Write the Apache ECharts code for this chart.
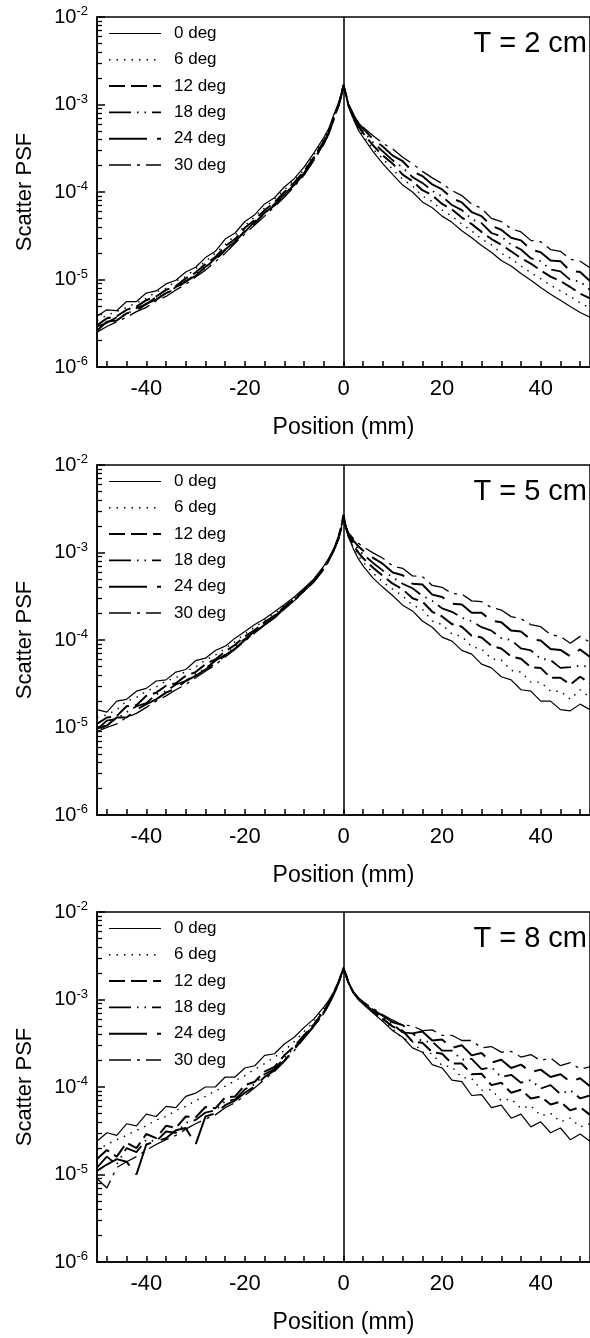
<!DOCTYPE html>
<html><head><meta charset="utf-8">
<script src="https://cdn.jsdelivr.net/npm/echarts@6/dist/echarts.min.js"></script>
<style>html,body{margin:0;padding:0;background:#fff}#chart{width:590px;height:1338px}</style>
</head><body><div id="chart"></div>
<script>
// Position (mm) sampling shared by all curves
const positions = [-50,-48,-46,-44,-42,-40,-38,-36,-34,-32,-30,-28,-26,-24,-22,-20,-18,-16,-14,-12,-10,-8,-6,-4,-3,-2,-1,-0.5,0,
  0.5,1,2,3,4,6,8,10,12,14,16,18,20,22,24,26,28,30,32,34,36,38,40,42,44,46,48,50];
const seriesNames = ['0 deg','6 deg','12 deg','18 deg','24 deg','30 deg'];
const panelTitles = ['T = 2 cm','T = 5 cm','T = 8 cm'];
const xTickLabels = [-40,-20,0,20,40];
const yTickLabels = [1e-6,1e-5,1e-4,1e-3,1e-2];

// T = 2 cm
const t2_0 = [3.8e-6,4.5e-6,4.4e-6,5.6e-6,5.6e-6,7.0e-6,7.4e-6,8.9e-6,9.8e-6,1.22e-5,1.38e-5,1.78e-5,2.1e-5,2.9e-5,3.4e-5,4.6e-5,5.5e-5,7.3e-5,8.6e-5,1.14e-4,1.42e-4,1.92e-4,2.8e-4,4.2e-4,5.3e-4,7.6e-4,1.05e-3,1.3e-3,1.7e-3,
  1.26e-3,9.5e-4,6.8e-4,5.1e-4,4.2e-4,2.9e-4,2.1e-4,1.58e-4,1.2e-4,1.0e-4,7.7e-5,6.6e-5,5.3e-5,4.5e-5,3.6e-5,3.0e-5,2.45e-5,2.05e-5,1.65e-5,1.43e-5,1.17e-5,9.8e-6,8.1e-6,6.8e-6,5.8e-6,4.9e-6,4.2e-6,3.7e-6];
const t2_6 = [3.4e-6,3.9e-6,4.3e-6,4.8e-6,5.4e-6,6.1e-6,7.2e-6,7.9e-6,9.6e-6,1.08e-5,1.33e-5,1.6e-5,2.0e-5,2.5e-5,3.2e-5,4.1e-5,5.2e-5,6.6e-5,8.3e-5,1.06e-4,1.35e-4,1.8e-4,2.65e-4,4.0e-4,5.1e-4,7.3e-4,1.02e-3,1.28e-3,1.68e-3,
  1.27e-3,9.6e-4,7.0e-4,5.3e-4,4.4e-4,3.1e-4,2.4e-4,1.8e-4,1.4e-4,1.17e-4,9.0e-5,7.8e-5,6.2e-5,5.3e-5,4.3e-5,3.6e-5,2.9e-5,2.5e-5,2.0e-5,1.73e-5,1.43e-5,1.2e-5,1.02e-5,8.6e-6,7.4e-6,6.4e-6,5.4e-6,4.7e-6];
const t2_12 = [3.0e-6,3.6e-6,3.8e-6,4.5e-6,4.9e-6,5.8e-6,6.4e-6,7.6e-6,8.4e-6,1.03e-5,1.2e-5,1.5e-5,1.8e-5,2.4e-5,2.9e-5,3.9e-5,4.8e-5,6.2e-5,7.6e-5,1.0e-4,1.28e-4,1.72e-4,2.5e-4,3.8e-4,4.9e-4,7.0e-4,1.0e-3,1.26e-3,1.66e-3,
  1.28e-3,9.8e-4,7.1e-4,5.6e-4,4.7e-4,3.4e-4,2.6e-4,2.1e-4,1.58e-4,1.33e-4,1.05e-4,9.2e-5,7.3e-5,6.3e-5,5.1e-5,4.3e-5,3.5e-5,2.9e-5,2.5e-5,2.1e-5,1.75e-5,1.52e-5,1.27e-5,1.08e-5,9.6e-6,8.2e-6,6.9e-6,6.1e-6];
const t2_18 = [2.9e-6,3.2e-6,3.7e-6,4.0e-6,4.7e-6,5.2e-6,6.3e-6,6.9e-6,8.2e-6,9.4e-6,1.15e-5,1.35e-5,1.75e-5,2.15e-5,2.8e-5,3.5e-5,4.6e-5,5.7e-5,7.3e-5,9.3e-5,1.22e-4,1.65e-4,2.4e-4,3.7e-4,4.8e-4,6.8e-4,9.8e-4,1.24e-3,1.65e-3,
  1.29e-3,9.9e-4,7.4e-4,5.7e-4,4.9e-4,3.7e-4,2.9e-4,2.3e-4,1.9e-4,1.48e-4,1.27e-4,1.03e-4,8.9e-5,7.1e-5,6.2e-5,4.9e-5,4.4e-5,3.4e-5,3.1e-5,2.5e-5,2.2e-5,1.75e-5,1.62e-5,1.3e-5,1.24e-5,9.9e-6,9.5e-6,7.6e-6];
const t2_24 = [2.6e-6,3.3e-6,3.4e-6,4.1e-6,4.4e-6,5.3e-6,5.9e-6,7.0e-6,7.8e-6,9.6e-6,1.1e-5,1.4e-5,1.65e-5,2.2e-5,2.7e-5,3.6e-5,4.4e-5,5.8e-5,7.0e-5,9.4e-5,1.2e-4,1.62e-4,2.35e-4,3.6e-4,4.7e-4,6.7e-4,9.7e-4,1.23e-3,1.64e-3,
  1.31e-3,1.0e-3,7.6e-4,6.1e-4,5.3e-4,4.0e-4,3.3e-4,2.6e-4,2.25e-4,1.72e-4,1.52e-4,1.22e-4,1.07e-4,8.5e-5,7.6e-5,5.9e-5,5.3e-5,4.1e-5,3.7e-5,3.0e-5,2.8e-5,2.2e-5,2.05e-5,1.65e-5,1.62e-5,1.25e-5,1.22e-5,9.6e-6];
const t2_30 = [2.5e-6,2.9e-6,3.3e-6,3.7e-6,4.3e-6,4.8e-6,5.7e-6,6.4e-6,7.6e-6,8.8e-6,1.07e-5,1.28e-5,1.6e-5,2.0e-5,2.6e-5,3.3e-5,4.2e-5,5.3e-5,6.8e-5,8.7e-5,1.15e-4,1.56e-4,2.3e-4,3.5e-4,4.6e-4,6.6e-4,9.6e-4,1.22e-3,1.63e-3,
  1.32e-3,1.02e-3,7.8e-4,6.3e-4,5.5e-4,4.4e-4,3.6e-4,3.1e-4,2.5e-4,2.1e-4,1.72e-4,1.45e-4,1.25e-4,1.04e-4,9.1e-5,7.3e-5,6.5e-5,5.0e-5,4.6e-5,3.8e-5,3.5e-5,2.8e-5,2.7e-5,2.2e-5,2.1e-5,1.7e-5,1.62e-5,1.36e-5];

// T = 5 cm
const t5_0 = [1.6e-5,1.5e-5,2.0e-5,2.1e-5,2.6e-5,2.8e-5,3.4e-5,3.5e-5,4.3e-5,4.6e-5,5.8e-5,6.2e-5,7.6e-5,8.5e-5,1.05e-4,1.25e-4,1.5e-4,1.75e-4,2.1e-4,2.55e-4,3.1e-4,3.9e-4,5.0e-4,7.0e-4,8.6e-4,1.1e-3,1.5e-3,1.9e-3,2.5e-3,
  1.9e-3,1.5e-3,1.1e-3,8.5e-4,7.0e-4,5.1e-4,4.0e-4,3.2e-4,2.5e-4,2.15e-4,1.65e-4,1.4e-4,1.08e-4,9.7e-5,7.6e-5,6.9e-5,5.3e-5,4.8e-5,3.8e-5,3.5e-5,2.7e-5,2.6e-5,2.0e-5,2.0e-5,1.6e-5,1.55e-5,1.85e-5,1.6e-5];
const t5_6 = [1.3e-5,1.4e-5,1.6e-5,2.0e-5,2.2e-5,2.6e-5,2.9e-5,3.4e-5,3.7e-5,4.4e-5,4.9e-5,5.9e-5,6.7e-5,8.0e-5,9.6e-5,1.17e-4,1.4e-4,1.68e-4,2.0e-4,2.45e-4,3.0e-4,3.8e-4,4.9e-4,6.8e-4,8.4e-4,1.08e-3,1.5e-3,1.9e-3,2.6e-3,
  1.92e-3,1.52e-3,1.16e-3,9.2e-4,7.7e-4,5.8e-4,4.6e-4,3.8e-4,3.2e-4,2.5e-4,2.25e-4,1.65e-4,1.5e-4,1.17e-4,1.1e-4,8.4e-5,7.9e-5,6.1e-5,5.9e-5,4.5e-5,4.3e-5,3.3e-5,3.3e-5,2.6e-5,2.6e-5,2.1e-5,2.7e-5,2.2e-5];
const t5_12 = [1.1e-5,1.3e-5,1.35e-5,1.75e-5,1.8e-5,2.3e-5,2.5e-5,3.0e-5,3.2e-5,3.9e-5,4.3e-5,5.3e-5,6.0e-5,7.4e-5,8.8e-5,1.1e-4,1.3e-4,1.6e-4,1.9e-4,2.4e-4,2.95e-4,3.75e-4,4.8e-4,6.7e-4,8.3e-4,1.07e-3,1.5e-3,1.95e-3,2.7e-3,
  1.95e-3,1.55e-3,1.22e-3,1.0e-3,8.6e-4,6.7e-4,5.4e-4,4.4e-4,3.8e-4,3.0e-4,2.75e-4,2.1e-4,1.86e-4,1.52e-4,1.42e-4,1.12e-4,1.07e-4,8.6e-5,8.0e-5,6.5e-5,6.1e-5,4.9e-5,4.8e-5,3.7e-5,3.7e-5,3.1e-5,3.8e-5,3.2e-5];
const t5_18 = [9.5e-6,1.2e-5,1.25e-5,1.5e-5,1.75e-5,1.9e-5,2.4e-5,2.6e-5,3.1e-5,3.4e-5,4.1e-5,4.7e-5,5.8e-5,6.8e-5,8.4e-5,1.03e-4,1.25e-4,1.55e-4,1.85e-4,2.35e-4,2.9e-4,3.7e-4,4.8e-4,6.6e-4,8.2e-4,1.06e-3,1.48e-3,1.95e-3,2.6e-3,
  1.97e-3,1.58e-3,1.29e-3,1.09e-3,9.5e-4,7.6e-4,6.2e-4,5.2e-4,4.4e-4,3.9e-4,3.2e-4,2.8e-4,2.3e-4,2.1e-4,1.8e-4,1.64e-4,1.4e-4,1.28e-4,1.05e-4,1.0e-4,8.0e-5,7.6e-5,6.1e-5,5.9e-5,4.8e-5,4.9e-5,5.1e-5,4.9e-5];
const t5_24 = [1.0e-5,1.05e-5,1.3e-5,1.3e-5,1.6e-5,1.85e-5,2.1e-5,2.5e-5,2.8e-5,3.4e-5,3.9e-5,4.6e-5,5.4e-5,6.7e-5,8.0e-5,1.0e-4,1.22e-4,1.5e-4,1.8e-4,2.3e-4,2.85e-4,3.65e-4,4.7e-4,6.5e-4,8.1e-4,1.05e-3,1.45e-3,1.85e-3,2.4e-3,
  1.9e-3,1.62e-3,1.37e-3,1.18e-3,1.05e-3,8.7e-4,7.4e-4,5.9e-4,5.5e-4,4.4e-4,4.3e-4,3.3e-4,3.1e-4,2.6e-4,2.55e-4,2.05e-4,2.05e-4,1.66e-4,1.6e-4,1.28e-4,1.25e-4,1.01e-4,9.9e-5,7.9e-5,7.7e-5,6.5e-5,7.8e-5,6.4e-5];
const t5_30 = [9.0e-6,1.0e-5,1.1e-5,1.3e-5,1.45e-5,1.7e-5,2.0e-5,2.3e-5,2.7e-5,3.1e-5,3.7e-5,4.4e-5,5.2e-5,6.4e-5,7.8e-5,9.7e-5,1.2e-4,1.48e-4,1.8e-4,2.25e-4,2.8e-4,3.6e-4,4.6e-4,6.4e-4,8.0e-4,1.04e-3,1.42e-3,1.8e-3,2.3e-3,
  2.0e-3,1.68e-3,1.45e-3,1.28e-3,1.16e-3,9.9e-4,8.6e-4,7.0e-4,6.6e-4,5.4e-4,5.3e-4,4.2e-4,4.0e-4,3.4e-4,3.35e-4,2.8e-4,2.75e-4,2.35e-4,2.2e-4,1.85e-4,1.75e-4,1.5e-4,1.42e-4,1.15e-4,1.1e-4,9.2e-5,1.1e-4,9.4e-5];

// T = 8 cm
const t8_0 = [2.4e-5,3.0e-5,2.8e-5,3.8e-5,3.6e-5,4.9e-5,4.6e-5,6.0e-5,5.8e-5,7.8e-5,8.5e-5,1.0e-4,1.0e-4,1.3e-4,1.3e-4,1.65e-4,1.75e-4,2.3e-4,2.4e-4,3.1e-4,3.7e-4,4.8e-4,6.0e-4,8.2e-4,9.8e-4,1.22e-3,1.6e-3,1.95e-3,2.35e-3,
  1.9e-3,1.55e-3,1.2e-3,1.0e-3,8.8e-4,7.0e-4,5.6e-4,4.4e-4,3.7e-4,2.8e-4,2.5e-4,1.8e-4,1.65e-4,1.2e-4,1.15e-4,8.0e-5,8.2e-5,5.8e-5,6.2e-5,4.4e-5,4.9e-5,3.5e-5,4.0e-5,3.0e-5,3.4e-5,2.5e-5,2.9e-5,2.4e-5];
const t8_6 = [1.9e-5,2.2e-5,2.5e-5,2.8e-5,3.2e-5,3.6e-5,4.2e-5,4.6e-5,5.4e-5,6.0e-5,7.0e-5,7.8e-5,9.0e-5,1.02e-4,1.18e-4,1.35e-4,1.6e-4,1.85e-4,2.2e-4,2.6e-4,3.3e-4,4.3e-4,5.6e-4,7.8e-4,9.5e-4,1.2e-3,1.6e-3,1.95e-3,2.3e-3,
  1.92e-3,1.56e-3,1.21e-3,1.01e-3,8.9e-4,7.1e-4,5.8e-4,4.6e-4,3.6e-4,3.3e-4,2.5e-4,2.4e-4,1.75e-4,1.7e-4,1.28e-4,1.25e-4,9.2e-5,9.3e-5,7.0e-5,7.3e-5,5.7e-5,6.1e-5,4.7e-5,5.0e-5,4.0e-5,4.4e-5,3.5e-5,3.8e-5];
const t8_12 = [1.5e-5,1.9e-5,1.6e-5,2.3e-5,2.0e-5,2.9e-5,2.6e-5,3.6e-5,3.4e-5,4.6e-5,4.5e-5,5.9e-5,5.7e-5,7.6e-5,7.8e-5,1.05e-4,1.15e-4,1.5e-4,1.7e-4,2.3e-4,2.9e-4,3.9e-4,5.2e-4,7.4e-4,9.2e-4,1.18e-3,1.58e-3,1.9e-3,2.25e-3,
  1.88e-3,1.54e-3,1.2e-3,1.02e-3,9.0e-4,7.3e-4,6.0e-4,4.9e-4,4.4e-4,3.3e-4,3.2e-4,2.5e-4,2.4e-4,1.85e-4,1.85e-4,1.4e-4,1.42e-4,1.05e-4,1.12e-4,8.6e-5,9.3e-5,7.4e-5,7.8e-5,6.3e-5,6.8e-5,5.4e-5,5.9e-5,4.8e-5];
const t8_18 = [1.2e-5,1.6e-5,1.3e-5,2.0e-5,1.8e-5,2.5e-5,2.4e-5,3.1e-5,3.0e-5,3.9e-5,4.2e-5,5.1e-5,5.4e-5,6.9e-5,7.2e-5,9.4e-5,1.08e-4,1.4e-4,1.6e-4,2.15e-4,2.8e-4,3.8e-4,5.1e-4,7.2e-4,9.0e-4,1.16e-3,1.56e-3,1.9e-3,2.2e-3,
  1.9e-3,1.57e-3,1.22e-3,1.02e-3,9.1e-4,7.4e-4,6.3e-4,5.2e-4,4.2e-4,4.1e-4,3.3e-4,3.3e-4,2.6e-4,2.6e-4,2.05e-4,2.1e-4,1.6e-4,1.68e-4,1.3e-4,1.38e-4,1.12e-4,1.2e-4,9.6e-5,1.05e-4,8.3e-5,9.2e-5,7.4e-5,8.0e-5];
const t8_24 = [1.1e-5,1.3e-5,1.5e-5,1.4e-5,1.0e-5,2.2e-5,2.4e-5,2.6e-5,3.2e-5,3.4e-5,2.2e-5,4.6e-5,5.0e-5,6.2e-5,7.0e-5,8.6e-5,1.02e-4,1.3e-4,1.55e-4,2.0e-4,2.7e-4,3.7e-4,5.0e-4,7.0e-4,8.8e-4,1.14e-3,1.55e-3,1.88e-3,2.25e-3,
  1.93e-3,1.56e-3,1.21e-3,1.03e-3,9.2e-4,7.6e-4,6.5e-4,5.5e-4,5.1e-4,4.1e-4,4.3e-4,3.4e-4,3.5e-4,2.8e-4,3.0e-4,2.3e-4,2.45e-4,1.9e-4,2.05e-4,1.65e-4,1.8e-4,1.48e-4,1.58e-4,1.3e-4,1.4e-4,1.15e-4,1.26e-4,1.02e-4];
const t8_30 = [9.0e-6,7.0e-6,1.2e-5,1.4e-5,1.6e-5,1.9e-5,2.2e-5,2.5e-5,2.8e-5,3.3e-5,3.8e-5,4.3e-5,4.8e-5,5.8e-5,6.6e-5,8.0e-5,9.8e-5,1.22e-4,1.5e-4,1.95e-4,2.6e-4,3.6e-4,4.9e-4,6.9e-4,8.7e-4,1.13e-3,1.52e-3,1.85e-3,2.2e-3,
  1.9e-3,1.58e-3,1.23e-3,1.05e-3,9.4e-4,7.9e-4,6.7e-4,5.8e-4,5.1e-4,5.0e-4,4.4e-4,4.5e-4,3.9e-4,3.9e-4,3.4e-4,3.4e-4,2.8e-4,2.9e-4,2.5e-4,2.55e-4,2.2e-4,2.35e-4,2.0e-4,2.15e-4,1.75e-4,1.9e-4,1.6e-4,1.7e-4];

const panels = [
  [t2_0, t2_6, t2_12, t2_18, t2_24, t2_30],
  [t5_0, t5_6, t5_12, t5_18, t5_24, t5_30],
  [t8_0, t8_6, t8_12, t8_18, t8_24, t8_30]
];

const FONT = '"Liberation Sans", Arial, sans-serif';
const tops = [17, 465, 912];
const H = 350;
const styles = [
  { type: 'solid', width: 1.2 },
  { type: [1.5, 6], width: 1.4 },
  { type: [16, 6], width: 2 },
  { type: [22, 6, 1.5, 6, 1.5, 6], width: 1.8 },
  { type: [38, 10], width: 2 },
  { type: [22, 6, 3, 6], width: 1.3 }
];
const minorY = [];
for (let e = -6; e <= -3; e++) for (let m = 2; m <= 9; m++) minorY.push(m * Math.pow(10, e));
const minorX = [];
for (let v = -48; v <= 48; v += 4) minorX.push(v);

const grid = [], xAxis = [], yAxis = [], title = [], legend = [], series = [];
tops.forEach((t, i) => {
  grid.push({ left: 97, right: -9, top: t, height: H, show: true, borderColor: '#000', borderWidth: 1.5, backgroundColor: 'transparent' });
  xAxis.push({
    type: 'value', gridIndex: i, min: -50, max: 50,
    axisLine: { show: true, onZero: false, lineStyle: { color: '#000', width: 1.5 } },
    axisTick: { show: true, inside: true, length: 6, customValues: minorX, lineStyle: { color: '#000', width: 1.5 } },
    axisLabel: { customValues: xTickLabels, fontSize: 22, color: '#000', fontFamily: FONT, margin: 11 },
    splitLine: { show: false },
    name: 'Position (mm)', nameLocation: 'middle', nameGap: 49,
    nameTextStyle: { fontSize: 23, color: '#000', fontFamily: FONT }
  });
  yAxis.push({
    type: 'log', logBase: 10, gridIndex: i, min: 1e-6, max: 1e-2, position: 'left',
    axisLine: { show: true, onZero: false, lineStyle: { color: '#000', width: 1.5 } },
    axisTick: { show: true, inside: true, length: 8, customValues: yTickLabels, lineStyle: { color: '#000', width: 1.5 } },
    axisLabel: {
      customValues: yTickLabels, margin: 9, color: '#000', fontFamily: FONT,
      formatter: v => '{b|10}{s|' + Math.round(Math.log10(v)) + '}',
      rich: {
        b: { fontSize: 20, lineHeight: 24, fontFamily: FONT, color: '#000' },
        s: { fontSize: 13, lineHeight: 15, verticalAlign: 'top', fontFamily: FONT, color: '#000' }
      }
    },
    splitLine: { show: false },
    name: 'Scatter PSF', nameLocation: 'middle', nameRotate: 90, nameGap: 61,
    nameTextStyle: { fontSize: 22, color: '#000', fontFamily: FONT }
  });
  yAxis.push({
    type: 'log', logBase: 10, gridIndex: i, min: 1e-6, max: 1e-2, position: 'left',
    axisLine: { show: false, onZero: false },
    axisTick: { show: true, inside: true, length: 5, customValues: minorY, lineStyle: { color: '#000', width: 1.3 } },
    axisLabel: { show: false },
    splitLine: { show: false }
  });
  title.push({
    text: panelTitles[i], right: 3, top: t + 12, padding: 0,
    textStyle: { fontSize: 29, fontWeight: 'normal', color: '#000', fontFamily: FONT }
  });
  legend.push({
    data: seriesNames, orient: 'vertical', left: 108, top: t + 8, padding: 0,
    itemWidth: 52, itemHeight: 14, itemGap: 9.3, selectedMode: false,
    textStyle: { fontSize: 17, color: '#000', fontFamily: FONT, lineHeight: 14, padding: [0, 0, 0, 8] },
    lineStyle: { width: 'inherit' },
    itemStyle: { opacity: 0 }
  });
  panels[i].forEach((vals, k) => {
    const s = {
      type: 'line', name: seriesNames[k], xAxisIndex: i, yAxisIndex: 2 * i,
      data: positions.map((x, j) => [x, vals[j]]),
      symbol: 'none', showSymbol: false, silent: true, animation: false,
      itemStyle: { color: '#000' },
      lineStyle: Object.assign({ color: '#000' }, styles[k])
    };
    if (k === 0) {
      s.markLine = {
        silent: true, symbol: ['none', 'none'], animation: false,
        label: { show: false },
        lineStyle: { type: 'solid', color: '#000', width: 1.5 },
        data: [{ xAxis: 0 }]
      };
    }
    series.push(s);
  });
});

const chart = echarts.init(document.getElementById('chart'), null, { renderer: 'canvas' });
chart.setOption({ backgroundColor: '#fff', animation: false, grid, xAxis, yAxis, title, legend, series });
</script>
</body></html>
